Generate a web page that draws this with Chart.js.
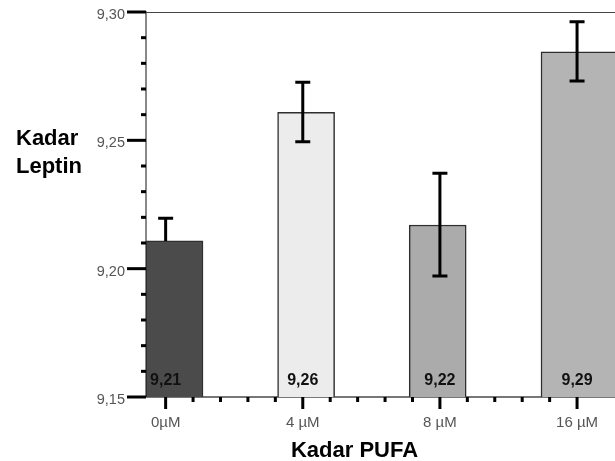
<!DOCTYPE html>
<html>
<head>
<meta charset="utf-8">
<script src="https://cdn.jsdelivr.net/npm/chart.js@4.4.1/dist/chart.umd.min.js"></script>
<style>
  html, body { margin: 0; padding: 0; background: #fff; overflow: hidden; }
  #wrap { width: 615px; height: 461px; }
</style>
</head>
<body>
<div id="wrap"><canvas id="leptinChart" width="615" height="461"></canvas></div>
<script>
const categories = ['0µM', '4 µM', '8 µM', '16 µM'];
const means = [9.2108, 9.2609, 9.2170, 9.2845];
const errUpper = [9.2196, 9.2726, 9.2372, 9.2962];
const errLower = [null, 9.2494, 9.1971, 9.2731]; // first bar only shows the upper whisker
const valueLabels = ['9,21', '9,26', '9,22', '9,29'];
const yTicks = [9.15, 9.20, 9.25, 9.30];

const barColors = ['#4b4b4b', '#ececec', '#ababab', '#b4b4b4'];
const FONT = "'Liberation Sans', Arial, Helvetica, sans-serif";
const last = means.length - 1;

// tick marks, error bars, value labels and axis titles
const extrasPlugin = {
    id: 'extras',
    afterDatasetsDraw(chart) {
        const ctx = chart.ctx;
        const area = chart.chartArea;
        const x = chart.scales.x;
        const y = chart.scales.y;
        ctx.save();

        // top frame line
        ctx.strokeStyle = '#444';
        ctx.lineWidth = 1;
        ctx.beginPath();
        ctx.moveTo(area.left, area.top + 0.5);
        ctx.lineTo(area.right, area.top + 0.5);
        ctx.stroke();

        // error bars
        ctx.strokeStyle = '#000';
        ctx.lineWidth = 3;
        means.forEach(function(m, i) {
            const px = x.getPixelForValue(i);
            const top = y.getPixelForValue(errUpper[i]);
            const bottom = errLower[i] === null ? y.getPixelForValue(m) : y.getPixelForValue(errLower[i]);
            ctx.beginPath();
            ctx.moveTo(px, top);
            ctx.lineTo(px, bottom);
            ctx.moveTo(px - 7.5, top);
            ctx.lineTo(px + 7.5, top);
            if (errLower[i] !== null) {
                ctx.moveTo(px - 7.5, bottom);
                ctx.lineTo(px + 7.5, bottom);
            }
            ctx.stroke();
        });

        // y ticks: major every 0.05, minor every 0.01
        ctx.fillStyle = '#000';
        for (let k = 915; k <= 930; k++) {
            const py = y.getPixelForValue(k / 100);
            const len = (k % 5 === 0) ? 19 : 5;
            ctx.fillRect(area.left - len, py - 1.5, len, 3);
        }

        // x ticks: major at categories, 4 minor between each pair
        for (let k = 0; k <= last * 5; k++) {
            const px = x.getPixelForValue(k / 5);
            const len = (k % 5 === 0) ? 12 : 5;
            ctx.fillRect(px - 1.5, area.bottom, 3, len);
        }

        // value labels at the foot of each bar
        ctx.fillStyle = '#111';
        ctx.font = 'bold 16px ' + FONT;
        ctx.textAlign = 'center';
        ctx.textBaseline = 'alphabetic';
        valueLabels.forEach(function(t, i) {
            ctx.fillText(t, x.getPixelForValue(i), area.bottom - 12);
        });

        // axis titles
        ctx.fillStyle = '#000';
        ctx.font = 'bold 22px ' + FONT;
        ctx.textAlign = 'center';
        ctx.fillText('Kadar PUFA', 354.5, 456.5);
        ctx.textAlign = 'left';
        ctx.fillText('Kadar', 16, 145);
        ctx.fillText('Leptin', 16, 173);

        ctx.restore();
    }
};

let leptinChart = new Chart(document.getElementById('leptinChart').getContext('2d'), {
    type: 'bar',
    data: {
        datasets: [{
            label: 'Kadar Leptin',
            data: means.map(function(v, i) { return { x: i, y: i < last ? v : null }; }),
            xAxisID: 'xb',
            yAxisID: 'y',
            grouped: false,
            backgroundColor: barColors,
            borderColor: '#2e2e2e',
            borderWidth: 1.5,
            barThickness: 57
        }, {
            // last bar runs past the right edge of the picture
            label: 'Kadar Leptin 16',
            data: means.map(function(v, i) { return { x: i, y: i === last ? v : null }; }),
            xAxisID: 'xc',
            yAxisID: 'y',
            grouped: false,
            backgroundColor: barColors,
            borderColor: '#2e2e2e',
            borderWidth: 1.5,
            barThickness: 114
        }]
    },
    options: {
        responsive: false,
        animation: false,
        layout: { padding: { top: 12, left: 0, right: 0, bottom: 0 } },
        plugins: {
            legend: { display: false },
            tooltip: { enabled: false }
        },
        scales: {
            x: {
                type: 'linear',
                position: 'bottom',
                min: -0.1432,
                max: 3.2767,
                offset: false,
                grid: { display: false, drawTicks: false },
                border: { display: true, color: '#777', width: 2 },
                ticks: {
                    padding: 17,
                    color: '#555',
                    font: { family: FONT, size: 15 },
                    maxRotation: 0,
                    autoSkip: false,
                    callback: function(v) { return categories[v] !== undefined ? categories[v] : ''; }
                },
                afterBuildTicks: function(s) { s.ticks = categories.map(function(c, i) { return { value: i }; }); },
                afterFit: function(s) { s.height = 64; s.paddingLeft = 0; s.paddingRight = 0; }
            },
            xb: { type: 'linear', display: false, min: -0.2166, max: 3.3473, offset: false },
            xc: { type: 'linear', display: false, min: -0.4347, max: 3.1292, offset: false },
            y: {
                type: 'linear',
                min: 9.15,
                max: 9.30,
                grid: { display: false, drawTicks: false },
                border: { display: true, color: '#888', width: 2 },
                ticks: {
                    padding: 21,
                    labelOffset: 3,
                    color: '#555',
                    font: { family: FONT, size: 14.5 },
                    callback: function(v) { return v.toFixed(2).replace('.', ','); }
                },
                afterBuildTicks: function(s) { s.ticks = yTicks.map(function(v) { return { value: v }; }); },
                afterFit: function(s) { s.width = 146; s.paddingTop = 0; s.paddingBottom = 0; }
            }
        }
    },
    plugins: [extrasPlugin]
});
</script>
</body>
</html>
